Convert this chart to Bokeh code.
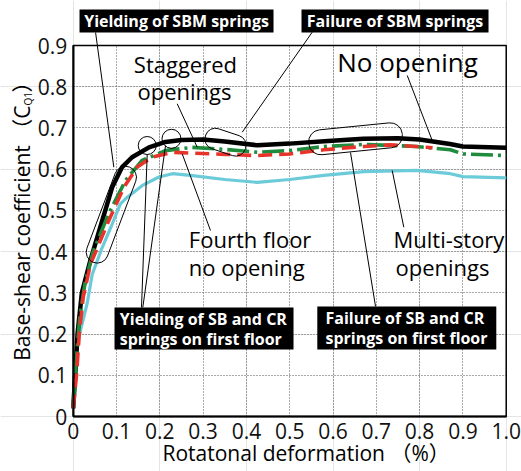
import math
from bokeh.plotting import figure
from bokeh.models import Label, Arrow, FixedTicker, Range1d, LinearAxis, Grid
from bokeh.embed import file_html
from bokeh.resources import INLINE

# ---- data ----
no_open_x = [0, 0.004, 0.01, 0.02, 0.04, 0.067, 0.09, 0.113, 0.136, 0.175, 0.213, 0.25, 0.3, 0.35,
             0.425, 0.5, 0.58, 0.67, 0.75, 0.8, 0.87, 0.9, 1.0]
no_open_y = [0.02, 0.09, 0.2, 0.3, 0.38, 0.475, 0.556, 0.605, 0.629, 0.653, 0.666, 0.671, 0.672, 0.667,
             0.658, 0.662, 0.668, 0.674, 0.675, 0.672, 0.661, 0.655, 0.652]

staggered_x = [0, 0.006, 0.015, 0.027, 0.046, 0.082, 0.121, 0.159, 0.213, 0.275, 0.35, 0.425, 0.5,
               0.579, 0.671, 0.794, 0.871, 0.9, 1.0]
staggered_y = [0.02, 0.12, 0.24, 0.322, 0.4, 0.492, 0.573, 0.621, 0.645, 0.653, 0.648, 0.641, 0.645,
               0.655, 0.66, 0.655, 0.647, 0.637, 0.633]

fourth_x = [0, 0.008, 0.014, 0.023, 0.04, 0.082, 0.117, 0.148, 0.182, 0.229, 0.271, 0.35, 0.425, 0.5,
            0.579, 0.671, 0.733, 0.83]
fourth_y = [0.02, 0.104, 0.2, 0.289, 0.37, 0.475, 0.556, 0.605, 0.629, 0.641, 0.639, 0.636, 0.633, 0.637,
            0.647, 0.655, 0.659, 0.652]

multi_x = [0, 0.005, 0.011, 0.032, 0.044, 0.067, 0.09, 0.109, 0.125, 0.159, 0.198, 0.229, 0.271, 0.35,
           0.425, 0.5, 0.579, 0.671, 0.794, 0.871, 0.9, 1.0]
multi_y = [0.02, 0.1, 0.184, 0.273, 0.345, 0.41, 0.467, 0.516, 0.532, 0.56, 0.581, 0.589, 0.585, 0.575,
           0.568, 0.575, 0.585, 0.594, 0.597, 0.589, 0.582, 0.579]

x_ticks = [0, 0.1, 0.2, 0.3, 0.4, 0.5, 0.6, 0.7, 0.8, 0.9, 1.0]
x_tick_labels = ["0", "0.1", "0.2", "0.3", "0.4", "0.5", "0.6", "0.7", "0.8", "0.9", "1.0"]
y_ticks = [0, 0.1, 0.2, 0.3, 0.4, 0.5, 0.6, 0.7, 0.8, 0.9]
y_tick_labels = ["0", "0.1", "0.2", "0.3", "0.4", "0.5", "0.6", "0.7", "0.8", "0.9"]

X_MIN, X_MAX = 0.0, 1.0
Y_MIN, Y_MAX = 0.0, 0.9

FONT = "Open Sans, Noto Sans CJK JP"

# the frame covers the whole canvas; the chart box is drawn inside it so that
# annotations outside the box (titles, leader lines) are not clipped
p = figure(width=521, height=471, output_backend="svg", toolbar_location=None,
           x_range=Range1d(-0.1679, 1.0353), y_range=Range1d(-0.1334, 1.0092),
           x_axis_location=None, y_axis_location=None,
           min_border_left=0, min_border_right=0, min_border_top=0, min_border_bottom=0)
p.outline_line_color = None
p.background_fill_color = "white"
p.border_fill_color = "white"

# axes fixed at the chart box origin
xaxis = LinearAxis(fixed_location=Y_MIN, bounds=(X_MIN, X_MAX), ticker=FixedTicker(ticks=x_ticks))
yaxis = LinearAxis(fixed_location=X_MIN, bounds=(Y_MIN, Y_MAX), ticker=FixedTicker(ticks=y_ticks))
xaxis.major_label_overrides = dict(zip(x_ticks, x_tick_labels))
yaxis.major_label_overrides = dict(zip(y_ticks, y_tick_labels))
for ax in (xaxis, yaxis):
    ax.major_tick_line_color = None
    ax.minor_tick_line_color = None
    ax.axis_line_color = "black"
    ax.axis_line_width = 2
    ax.major_label_text_font = FONT
    ax.major_label_text_font_size = "21px"
    ax.major_label_text_color = "#111111"
xaxis.major_label_standoff = 0
yaxis.major_label_standoff = 0
p.add_layout(xaxis, "below")
p.add_layout(yaxis, "left")

# grid (dotted), limited to the chart box
grid_props = Grid.properties()
if "cross_bounds" in grid_props:
    xg = Grid(dimension=0, ticker=FixedTicker(ticks=x_ticks[1:-1]), bounds=(X_MIN, X_MAX),
              cross_bounds=(Y_MIN, Y_MAX))
    yg = Grid(dimension=1, ticker=FixedTicker(ticks=y_ticks[1:]), bounds=(Y_MIN, Y_MAX),
              cross_bounds=(X_MIN, X_MAX))
    for g in (xg, yg):
        g.grid_line_color = "#555555"
        g.grid_line_dash = "1 2"
        g.grid_line_width = 1
        p.add_layout(g)
else:
    gx = x_ticks[1:-1]
    gy = y_ticks[1:]
    p.segment(x0=gx, y0=[Y_MIN] * len(gx), x1=gx, y1=[Y_MAX] * len(gx),
              line_color="#555555", line_dash="1 2", line_width=1)
    p.segment(x0=[X_MIN] * len(gy), y0=gy, x1=[X_MAX] * len(gy), y1=gy,
              line_color="#555555", line_dash="1 2", line_width=1)

# chart box outline
p.quad(left=[X_MIN], right=[X_MAX], bottom=[Y_MIN], top=[Y_MAX], fill_color=None,
       line_color="black", line_width=1.5)

# curves
p.line(multi_x, multi_y, line_color="#6ccbd9", line_width=3.2)
p.line(no_open_x, no_open_y, line_color="black", line_width=4.5)
p.line(staggered_x, staggered_y, line_color="#1e8c3c", line_width=3.6, line_dash="22 5 3 5")
p.line(fourth_x, fourth_y, line_color="#e8332a", line_width=3.6, line_dash="14 7")

# annotation shapes
p.scatter([0.1709, 0.227], [0.6574, 0.6737], size=[18, 19], marker="circle",
          fill_color=None, line_color="black", line_width=1)
for cx, cy, w, h, ang in [(0.0881, 0.4896, 102, 22, 69.3), (0.3517, 0.6655, 42, 21, -18.5),
                          (0.652, 0.6737, 94, 25, 5.7)]:
    p.rect(x=[cx], y=[cy], width=w, height=h, width_units="screen", height_units="screen",
           angle=math.radians(ang), border_radius=int(h // 2), fill_color=None,
           line_color="black", line_width=1)

# black boxes behind the bold notes
p.rect(x=[0.2386, 0.7432, 0.3021, 0.7704], y=[0.9595, 0.9595, 0.2135, 0.2147],
       width=[194, 187, 179, 179], height=[23, 23, 42, 43],
       width_units="screen", height_units="screen", fill_color="black", line_color=None)

# leader lines
leaders = [
    (0.0517, 0.9316, 0.0938, 0.6048),
    (0.552, 0.9323, 0.3903, 0.6897),
    (0.2402, 0.7586, 0.2864, 0.6533),
    (0.3171, 0.4512, 0.2517, 0.6373),
    (0.7714, 0.8273, 0.8291, 0.6696),
    (0.7635, 0.4592, 0.7367, 0.5968),
    (0.1577, 0.2644, 0.1709, 0.6356),
    (0.1607, 0.2644, 0.2132, 0.6574),
    (0.6982, 0.2669, 0.6404, 0.6405),
]
for xs, ys, xe, ye in leaders:
    p.add_layout(Arrow(x_start=xs, y_start=ys, x_end=xe, y_end=ye, end=None,
                       line_color="black", line_width=1))

# bold notes (white on black)
for tx, ty, txt, al in [(0.2386, 0.9595, "Yielding of SBM springs", "center"),
                        (0.7432, 0.9595, "Failure of SBM springs", "center"),
                        (0.1076, 0.2377, "Yielding of SB and CR", "left"),
                        (0.1076, 0.1892, "springs on first floor", "left"),
                        (0.5827, 0.2390, "Failure of SB and CR", "left"),
                        (0.5827, 0.1904, "springs on first floor", "left")]:
    p.add_layout(Label(x=tx, y=ty, text=txt, text_font=FONT, text_font_style="bold",
                       text_font_size="16px", text_color="white", text_align=al,
                       text_baseline="middle"))

# plain labels
for tx, ty, txt, fs in [(0.140, 0.8559, "Staggered", "22px"),
                        (0.1485, 0.7889, "openings", "22px"),
                        (0.6097, 0.8598, "No opening", "26px"),
                        (0.267, 0.4313, "Fourth floor", "22px"),
                        (0.267, 0.3627, "no opening", "22px"),
                        (0.7397, 0.4313, "Multi-story", "22px"),
                        (0.7443, 0.3627, "openings", "22px")]:
    p.add_layout(Label(x=tx, y=ty, text=txt, text_font=FONT, text_font_size=fs,
                       text_color="black", text_align="left", text_baseline="middle"))

# axis titles
p.add_layout(Label(x=0.2062, y=-0.0895, text="Rotatonal deformation （%）", text_font=FONT,
                   text_font_size="21px", text_color="black", text_align="left",
                   text_baseline="middle"))
p.add_layout(Label(x=-0.1174, y=0.7545, text="Base-shear coefficient （C", text_font=FONT,
                   text_font_size="21px", text_color="black", text_align="right",
                   text_baseline="middle", angle=math.pi / 2))
p.add_layout(Label(x=-0.1053, y=0.7545, text="Q1", text_font=FONT,
                   text_font_size="10px", text_color="black", text_align="left",
                   text_baseline="middle", angle=math.pi / 2))
p.add_layout(Label(x=-0.1174, y=0.786, text="）", text_font=FONT,
                   text_font_size="21px", text_color="black", text_align="left",
                   text_baseline="middle", angle=math.pi / 2))

open("out.html", "w").write(file_html(p, INLINE))
